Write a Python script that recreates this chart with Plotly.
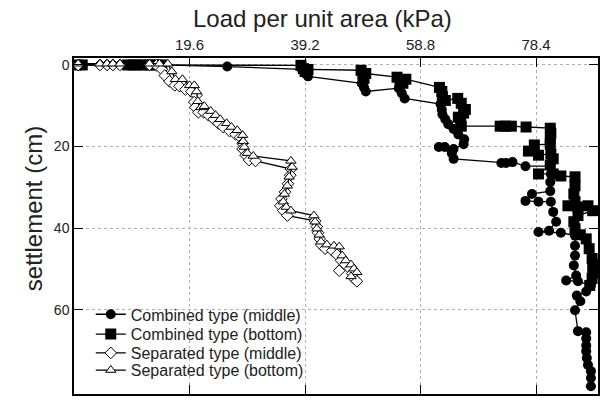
import plotly.graph_objects as go

# Combined type, gauge in the middle of the layer (load kPa, settlement cm)
comb_mid_load = [0.5, 9.1, 10.5, 12.2, 13.7, 14.9, 26.0, 38.7, 39.2, 39.7,
                 48.8, 49.2, 49.5, 55.1, 55.6, 56.1, 62.2, 62.4, 62.5, 63.0,
                 63.5, 64.4, 65.2, 66.2, 66.1, 64.4, 62.9, 61.9, 64.1, 64.4,
                 72.5, 73.3, 74.4, 76.6, 80.8, 80.9, 80.8, 80.8, 77.7, 76.6,
                 78.8, 80.9, 81.3, 81.8, 80.6, 78.8, 82.6, 85.0, 85.0, 85.0,
                 84.8, 85.2, 83.5, 85.5, 87.7, 86.9, 85.3, 85.9, 85.0, 85.5,
                 86.9, 86.9, 86.9, 86.9, 87.0, 87.2, 87.7, 87.7, 87.7]
comb_mid_settle = [0, 0, 0, 0, 0, 0, 0.4, 1.1, 2.1, 2.8,
                   4.5, 5.5, 6.5, 5.7, 6.9, 8.2, 9.6, 10.9, 12.1, 13.3,
                   14.5, 15.7, 17.0, 18.2, 19.4, 20.6, 20.1, 20.1, 21.6, 23.0,
                   24.0, 24.0, 23.8, 24.8, 24.8, 26.7, 28.7, 30.9, 31.6, 33.3,
                   33.5, 33.5, 36.0, 38.4, 40.6, 40.9, 41.1, 41.8, 44.3, 46.7,
                   49.1, 51.6, 52.8, 53.0, 54.0, 55.5, 56.5, 57.9, 60.1, 65.2,
                   65.5, 67.0, 68.7, 70.1, 71.8, 73.5, 75.0, 76.7, 78.7]

# Combined type, gauge at the bottom of the layer
comb_bot_load = [0.5, 1.4, 9.1, 10.0, 10.8, 11.8, 12.8, 13.9, 14.9, 38.5,
                 38.9, 39.2, 39.7, 48.7, 49.0, 49.2, 49.5, 54.8, 55.3, 55.8,
                 56.3, 62.0, 62.4, 62.5, 63.0, 65.1, 65.7, 66.4, 66.1, 65.2,
                 65.6, 65.7, 72.3, 73.2, 74.2, 76.7, 80.8, 80.9, 80.8, 80.8,
                 78.1, 77.1, 78.8, 80.9, 81.3, 80.8, 78.8, 81.3, 82.6, 85.0,
                 85.0, 84.8, 85.0, 83.8, 85.5, 87.2, 88.0, 85.5, 84.8, 85.0,
                 85.9, 86.9, 87.4, 87.9, 88.2, 88.0, 88.2, 87.9, 87.5]
comb_bot_settle = [0, 0, 0, 0, 0, 0, 0, 0, 0, 0.1,
                   0.9, 1.6, 1.1, 1.3, 2.3, 3.3, 2.1, 3.0, 3.8, 4.5,
                   3.5, 5.5, 6.5, 7.7, 8.7, 8.2, 9.4, 10.9, 11.8, 12.8,
                   14.0, 15.0, 15.0, 15.0, 15.0, 15.2, 15.5, 16.7, 18.2, 19.4,
                   19.6, 21.1, 22.1, 21.8, 23.0, 24.5, 26.7, 26.7, 27.2, 27.4,
                   29.6, 31.6, 33.5, 34.5, 34.8, 34.5, 35.7, 36.9, 38.4, 40.1,
                   41.6, 42.6, 45.0, 47.4, 48.7, 49.9, 51.0, 52.3, 54.0]

# Separated type, gauge in the middle of the layer
sep_mid_load = [0.7, 4.4, 5.6, 6.6, 7.8, 12.8, 14.0, 14.9, 15.4, 16.2,
                17.1, 17.9, 18.9, 19.9, 20.8, 20.4, 20.6, 21.1, 22.0, 22.8,
                23.7, 24.5, 25.3, 26.4, 27.4, 28.2, 28.6, 28.6, 29.1, 29.7,
                30.8, 36.8, 36.7, 36.3, 35.8, 35.2, 35.0, 35.5, 36.2, 40.9,
                41.2, 41.4, 41.7, 41.9, 42.6, 43.8, 44.6, 45.3, 45.0, 46.0,
                46.8, 47.2, 47.5, 48.0]
sep_mid_settle = [0, 0, 0, 0, 0, 0, 0.1, 1.1, 2.6, 4.0,
                  5.0, 5.2, 6.0, 6.5, 7.4, 9.1, 10.4, 11.6, 11.6, 12.3,
                  13.3, 14.3, 15.2, 16.2, 17.0, 17.7, 19.2, 20.6, 22.1, 23.3,
                  23.5, 25.5, 27.0, 29.1, 31.1, 32.8, 34.5, 35.7, 36.9, 38.2,
                  39.6, 41.1, 42.6, 44.0, 45.0, 45.5, 46.5, 47.9, 50.4, 48.9,
                  49.9, 51.1, 52.3, 53.0]

# Separated type, gauge at the bottom of the layer
sep_bot_load = [0.7, 4.4, 5.6, 6.6, 7.8, 12.8, 14.5, 15.9, 16.6, 17.2,
                18.4, 19.6, 20.4, 20.8, 21.0, 21.5, 22.1, 23.2, 24.0, 24.8,
                25.9, 26.7, 27.7, 28.6, 28.7, 28.9, 29.4, 30.4, 36.8, 37.0,
                36.5, 36.2, 35.7, 35.5, 36.0, 36.8, 40.7, 40.9, 41.2, 41.6,
                41.9, 42.9, 44.1, 45.0, 45.5, 46.1, 47.0, 47.5, 48.0, 47.0]
sep_bot_settle = [-0.3, -0.3, -0.3, -0.3, -0.3, -0.3, -0.3, -0.3, 1.6, 3.5,
                  3.5, 5.0, 5.0, 6.5, 8.9, 10.4, 10.1, 11.3, 12.3, 13.3,
                  14.3, 15.2, 16.0, 17.2, 18.7, 20.1, 21.6, 22.3, 23.5, 25.0,
                  27.4, 29.6, 31.6, 33.5, 34.8, 35.7, 36.9, 38.4, 40.1, 41.6,
                  43.3, 44.0, 44.3, 44.5, 46.7, 47.9, 48.9, 49.9, 50.8, 51.8]

x_ticks = [19.6, 39.2, 58.8, 78.4]
x_tick_text = ["19.6", "39.2", "58.8", "78.4"]
y_ticks = [0, 20, 40, 60]

FONT = "Liberation Sans, Arial, sans-serif"

series = [
    ("Combined type (middle)", comb_mid_load, comb_mid_settle,
     dict(symbol="circle", size=10, color="black")),
    ("Combined type (bottom)", comb_bot_load, comb_bot_settle,
     dict(symbol="square", size=11, color="black")),
    ("Separated type (middle)", sep_mid_load, sep_mid_settle,
     dict(symbol="diamond", size=9, color="white",
          line=dict(color="black", width=1))),
    ("Separated type (bottom)", sep_bot_load, sep_bot_settle,
     dict(symbol="triangle-up", size=9, color="white",
          line=dict(color="black", width=1))),
]

# one legend box per entry so the row spacing can be set exactly
legend_ids = ["legend", "legend2", "legend3", "legend4"]
legend_rows_y = [0.237, 0.178, 0.122, 0.071]

fig = go.Figure()
for (name, xs, ys, marker), lid in zip(series, legend_ids):
    fig.add_trace(go.Scatter(
        x=xs, y=ys, name=name, mode="lines+markers",
        line=dict(color="black", width=1.3),
        marker=marker, legend=lid,
    ))

legend_layout = {}
for lid, ly in zip(legend_ids, legend_rows_y):
    legend_layout[lid] = dict(
        x=0.032, y=ly, xanchor="left", yanchor="middle",
        bgcolor="rgba(0,0,0,0)", borderwidth=0,
        font=dict(size=16, family=FONT, color="#222"),
        itemwidth=30,
    )

axis_common = dict(
    showline=True, linecolor="black", linewidth=1.5, mirror="allticks",
    ticks="inside", ticklen=9, tickwidth=1.2, tickcolor="black",
    showgrid=True, gridcolor="#b0b0b0", griddash="dot", gridwidth=1,
    zeroline=False,
)

fig.update_layout(
    width=605, height=401,
    margin=dict(l=74, r=5, t=58, b=5),
    paper_bgcolor="white", plot_bgcolor="white",
    font=dict(family=FONT, color="#222"),
    showlegend=True,
    xaxis=dict(
        side="top", range=[0, 88.9],
        tickvals=x_ticks, ticktext=x_tick_text,
        tickfont=dict(size=15, family=FONT, color="#222"),
        **axis_common,
    ),
    yaxis=dict(
        range=[80.6, -1.7],
        tickvals=y_ticks,
        tickfont=dict(size=14, family=FONT, color="#222"),
        **axis_common,
    ),
    # white panel behind the legend entries, hiding the grid there
    shapes=[
        dict(type="rect", xref="paper", yref="paper", layer="below",
             x0=0.040, x1=0.449, y0=0.044, y1=0.278,
             fillcolor="white", line=dict(width=0)),
    ],
    annotations=[
        dict(text="Load per unit area (kPa)", xref="paper", yref="paper",
             x=0.475, y=1.0, yshift=40, xanchor="center", yanchor="middle",
             showarrow=False, font=dict(size=24, family=FONT, color="#222")),
        dict(text="settlement (cm)", xref="paper", yref="paper",
             x=0.0, y=0.55, xshift=-41, xanchor="center", yanchor="middle",
             textangle=-90, showarrow=False,
             font=dict(size=24, family=FONT, color="#222")),
    ],
    **legend_layout,
)

fig.write_html("out.html")
